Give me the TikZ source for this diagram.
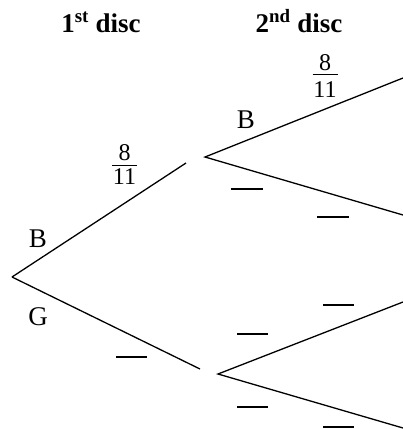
\documentclass[tikz,border=0pt]{standalone}
\usepackage{fontspec}
\setmainfont{Liberation Serif}
\begin{document}
\begin{tikzpicture}[x=1pt,y=-1pt,
  branch/.style={line width=1.3pt},
  blank/.style={line width=1.5pt},
  bar/.style={line width=1pt},
  lbl/.style={font=\fontsize{27}{30}\selectfont, inner sep=0pt, anchor=base},
  num/.style={font=\fontsize{24}{26}\selectfont, inner sep=0pt},
  head/.style={font=\fontsize{27}{30}\selectfont\bfseries, inner sep=0pt, anchor=base}]
\useasboundingbox (0,0) rectangle (403,429);
% headings
\node[head] (h1) at (101,32) {1\textsuperscript{st} disc};
\node[head] (h2) at (299,32) {2\textsuperscript{nd} disc};
% tree points
\coordinate (root) at (12,277);
\coordinate (b1end) at (186,163);
\coordinate (g1end) at (200,369);
\coordinate (v1) at (205,157);
\coordinate (v1a) at (403,78);
\coordinate (v1b) at (403,215);
\coordinate (v2) at (218,374);
\coordinate (v2a) at (403,302);
\coordinate (v2b) at (403,428);
% branches
\draw[branch] (root) -- (b1end);
\draw[branch] (root) -- (g1end);
\draw[branch] (v1a) -- (v1) -- (v1b);
\draw[branch] (v2a) -- (v2) -- (v2b);
% labels
\node[lbl] (B1) at (38,247) {B};
\node[lbl] (G1) at (38,325) {G};
\node[lbl] (B2) at (246,128) {B};
% fractions
\node[num] (n1) at (124.5,153) {8};
\draw[bar] (112,165) -- (137,165);
\node[num] (d1) at (124.5,177) {11};
\node[num] (n2) at (325,63) {8};
\draw[bar] (312.5,74) -- (337.5,74);
\node[num] (d2) at (325,89.5) {11};
% blanks
\draw[blank] (116,357) -- (147,357);
\draw[blank] (231,189) -- (263,189);
\draw[blank] (317,217) -- (349,217);
\draw[blank] (323,305) -- (354,305);
\draw[blank] (237,334) -- (268,334);
\draw[blank] (237,407) -- (268,407);
\draw[blank] (323,427) -- (354,427);
\end{tikzpicture}
\end{document}
